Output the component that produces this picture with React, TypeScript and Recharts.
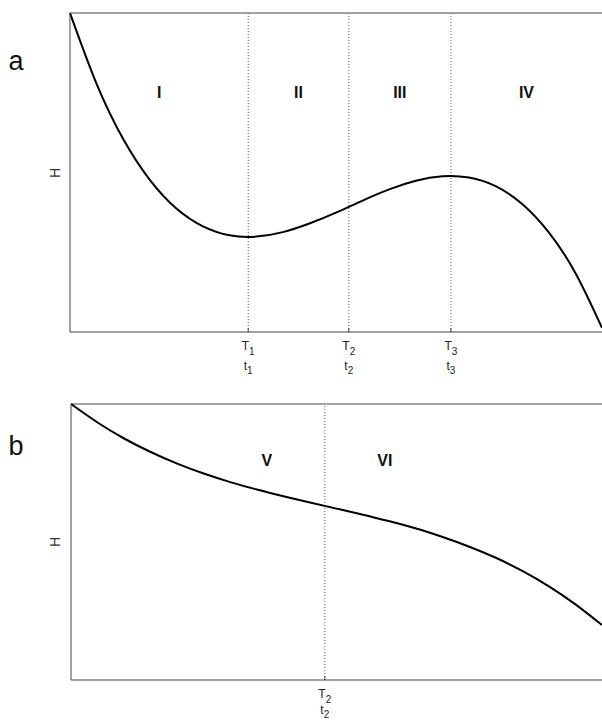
import { LineChart, Line, XAxis, YAxis, ReferenceLine, ReferenceDot } from 'recharts';

const FONT = '"Liberation Sans", Arial, Helvetica, sans-serif';
const AXIS = '#444';

// shared time grid (x as % of the plot width)
const tValues = [0, 5, 10, 15, 20, 25, 30, 35, 40, 45, 50, 55, 60, 65, 70, 75, 80, 85, 90, 95, 100];

// panel a
const heightA = [100, 77.8, 60.5, 47.7, 38.7, 33.1, 30.3, 29.9, 31.3, 34.0, 37.4, 41.2, 44.7, 47.4, 48.8, 48.4, 45.7, 40.1, 31.2, 18.5, 1.3];
const boundsA = [33.5, 52.4, 71.6];
const subsA = ['1', '2', '3'];
const regionsA = ['I', 'II', 'III', 'IV'];

// panel b
const heightB = [100, 93.3, 87.5, 82.6, 78.4, 74.8, 71.7, 69.0, 66.6, 64.3, 62.1, 59.9, 57.5, 54.9, 51.8, 48.3, 44.3, 39.5, 33.9, 27.4, 19.9];
const boundsB = [47.8];
const subsB = ['2'];
const regionsB = ['V', 'VI'];
const regionXB = [36.9, 59.1];

const dataA = tValues.map((t, i) => ({ t, h: heightA[i] }));
const dataB = tValues.map((t, i) => ({ t, h: heightB[i] }));

// region labels of panel a sit midway between the boundaries
const edgesA = [0, ...boundsA, 100];
const regionXA = regionsA.map((_, i) => (edgesA[i] + edgesA[i + 1]) / 2);

const TimeTick = (props: any) => {
  const { x, y, payload, bounds, subs, gap = 38 } = props;
  const s = subs[bounds.indexOf(payload.value)] ?? '';
  return (
    <g>
      <line x1={x} x2={x} y1={y - 4} y2={y} stroke={AXIS} />
      <text x={x} y={y + 18} textAnchor="middle" fontFamily={FONT} fontSize={12} fill="#222">
        T<tspan dy={5} fontSize={10}>{s}</tspan>
      </text>
      <text x={x} y={y + gap} textAnchor="middle" fontFamily={FONT} fontSize={12} fill="#222">
        t<tspan dy={4} fontSize={10}>{s}</tspan>
      </text>
    </g>
  );
};

const PanelText = (props: any) => {
  const { letter, letterY, hMid } = props;
  return (
    <g>
      <text x={16} y={letterY} textAnchor="middle" fontFamily={FONT} fontSize={27} fill="#111">
        {letter}
      </text>
      <text
        x={55}
        y={hMid}
        transform={`rotate(-90 55 ${hMid})`}
        textAnchor="middle"
        dominantBaseline="central"
        fontFamily={FONT}
        fontSize={14}
        fill="#333"
      >
        H
      </text>
    </g>
  );
};

const regionLabel = (value: string) => ({
  value,
  position: 'center' as const,
  fontSize: 16,
  fontWeight: 700,
  fill: '#111',
  fontFamily: FONT,
});

export default function App() {
  return (
    <div style={{ position: 'absolute', left: 0, top: 0, width: 602, height: 722, background: '#fff' }}>
      <div style={{ position: 'absolute', left: 0, top: 0 }}>
        <LineChart width={602} height={380} data={dataA} margin={{ top: 13, right: 0, left: 0, bottom: 0 }}>
          <XAxis
            type="number"
            dataKey="t"
            domain={[0, 100]}
            ticks={boundsA}
            interval={0}
            height={48}
            tickSize={0}
            tickMargin={0}
            tickLine={false}
            axisLine={{ stroke: AXIS }}
            tick={<TimeTick bounds={boundsA} subs={subsA} />}
          />
          <YAxis
            type="number"
            domain={[0, 100]}
            width={70}
            tick={false}
            tickLine={false}
            axisLine={{ stroke: AXIS }}
            label={<PanelText letter="a" letterY={70} hMid={173} />}
          />
          <ReferenceLine y={100} stroke={AXIS} />
          {boundsA.map((b) => (
            <ReferenceLine key={b} x={b} stroke="#555" strokeDasharray="1 2" />
          ))}
          {regionsA.map((r, i) => (
            <ReferenceDot key={r} x={regionXA[i]} y={75} r={0} fill="none" stroke="none" label={regionLabel(r)} />
          ))}
          <Line type="natural" dataKey="h" stroke="#000" strokeWidth={2} dot={false} isAnimationActive={false} />
        </LineChart>
      </div>
      <div style={{ position: 'absolute', left: 0, top: 380 }}>
        <LineChart width={602} height={342} data={dataB} margin={{ top: 24, right: 0, left: 0, bottom: 0 }}>
          <XAxis
            type="number"
            dataKey="t"
            domain={[0, 100]}
            ticks={boundsB}
            interval={0}
            height={42}
            tickSize={0}
            tickMargin={0}
            tickLine={false}
            axisLine={{ stroke: AXIS }}
            tick={<TimeTick bounds={boundsB} subs={subsB} gap={34} />}
          />
          <YAxis
            type="number"
            domain={[0, 100]}
            width={71}
            tick={false}
            tickLine={false}
            axisLine={{ stroke: AXIS }}
            label={<PanelText letter="b" letterY={75} hMid={162} />}
          />
          <ReferenceLine y={100} stroke={AXIS} />
          {boundsB.map((b) => (
            <ReferenceLine key={b} x={b} stroke="#555" strokeDasharray="1 2" />
          ))}
          {regionsB.map((r, i) => (
            <ReferenceDot key={r} x={regionXB[i]} y={79.7} r={0} fill="none" stroke="none" label={regionLabel(r)} />
          ))}
          <Line type="natural" dataKey="h" stroke="#000" strokeWidth={2} dot={false} isAnimationActive={false} />
        </LineChart>
      </div>
    </div>
  );
}
